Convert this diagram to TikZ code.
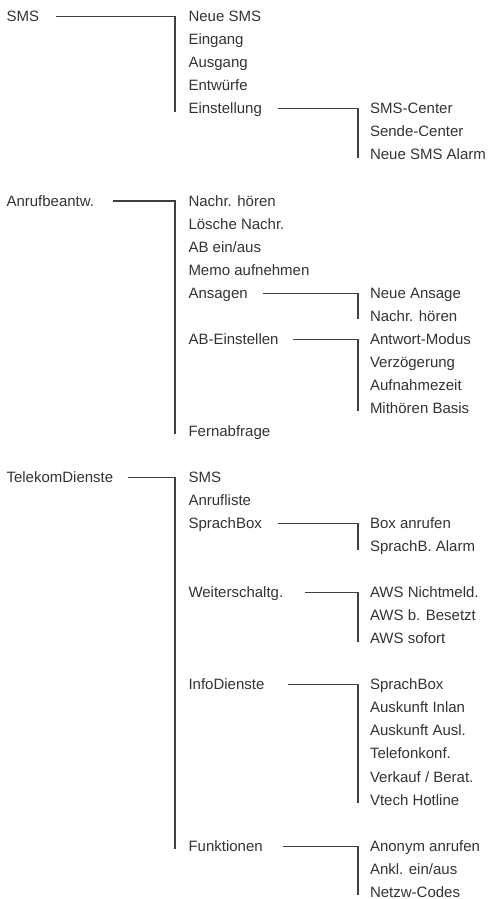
\documentclass[tikz,border=0pt]{standalone}
\usepackage{fontspec}
\setmainfont{Liberation Sans}
\definecolor{txt}{HTML}{333333}
\definecolor{ln}{HTML}{404040}
\begin{document}
\begin{tikzpicture}[x=1pt,y=-1pt,
  item/.style={anchor=base west,inner sep=0pt,outer sep=0pt,text=txt,font=\fontsize{15}{17}\selectfont},
  conn/.style={draw=ln,line width=1.1pt}]
\useasboundingbox (0,0) rectangle (491,899);
\def\ca{6.5}\def\cb{188.5}\def\cc{370}
\newcommand\ry[1]{{21.7+23.04*#1}}
% level 1
\node[item] (sms) at (\ca,\ry{0}) {SMS};
\node[item] (ab) at (\ca,\ry{8}) {Anrufbeantw.};
\node[item] (tk) at (\ca,\ry{20}) {TelekomDienste};
% level 2 SMS
\node[item] (neuesms) at (\cb,\ry{0}) {Neue SMS};
\node[item] (eingang) at (\cb,\ry{1}) {Eingang};
\node[item] (ausgang) at (\cb,\ry{2}) {Ausgang};
\node[item] (entw) at (\cb,\ry{3}) {Entwürfe};
\node[item] (einst) at (\cb,\ry{4}) {Einstellung};
\node[item] (smsc) at (\cc,\ry{4}) {SMS-Center};
\node[item] (sendec) at (\cc,\ry{5}) {Sende-Center};
\node[item] (alarm) at (\cc,\ry{6}) {Neue SMS Alarm};
% level 2 AB
\node[item] (nh) at (\cb,\ry{8}) {Nachr. hören};
\node[item] (loe) at (\cb,\ry{9}) {Lösche Nachr.};
\node[item] (abea) at (\cb,\ry{10}) {AB ein/aus};
\node[item] (memo) at (\cb,\ry{11}) {Memo aufnehmen};
\node[item] (ans) at (\cb,\ry{12}) {Ansagen};
\node[item] (abe) at (\cb,\ry{14}) {AB-Einstellen};
\node[item] (fern) at (\cb,\ry{18}) {Fernabfrage};
\node[item] (nans) at (\cc,\ry{12}) {Neue Ansage};
\node[item] (nh2) at (\cc,\ry{13}) {Nachr. hören};
\node[item] (amod) at (\cc,\ry{14}) {Antwort-Modus};
\node[item] (verz) at (\cc,\ry{15}) {Verzögerung};
\node[item] (aufn) at (\cc,\ry{16}) {Aufnahmezeit};
\node[item] (mith) at (\cc,\ry{17}) {Mithören Basis};
% level 2 Telekom
\node[item] (tsms) at (\cb,\ry{20}) {SMS};
\node[item] (aliste) at (\cb,\ry{21}) {Anrufliste};
\node[item] (sbox) at (\cb,\ry{22}) {SprachBox};
\node[item] (weit) at (\cb,\ry{25}) {Weiterschaltg.};
\node[item] (info) at (\cb,\ry{29}) {InfoDienste};
\node[item] (funk) at (\cb,\ry{36}) {Funktionen};
\node[item] (boxan) at (\cc,\ry{22}) {Box anrufen};
\node[item] (sbal) at (\cc,\ry{23}) {SprachB. Alarm};
\node[item] (awsn) at (\cc,\ry{25}) {AWS Nichtmeld.};
\node[item] (awsb) at (\cc,\ry{26}) {AWS b. Besetzt};
\node[item] (awss) at (\cc,\ry{27}) {AWS sofort};
\node[item] (isb) at (\cc,\ry{29}) {SprachBox};
\node[item] (ain) at (\cc,\ry{30}) {Auskunft Inlan};
\node[item] (aau) at (\cc,\ry{31}) {Auskunft Ausl.};
\node[item] (tel) at (\cc,\ry{32}) {Telefonkonf.};
\node[item] (verk) at (\cc,\ry{33}) {Verkauf / Berat.};
\node[item] (vtech) at (\cc,\ry{34}) {Vtech Hotline};
\node[item] (anon) at (\cc,\ry{36}) {Anonym anrufen};
\node[item] (ankl) at (\cc,\ry{37}) {Ankl. ein/aus};
\node[item] (netzw) at (\cc,\ry{38}) {Netzw-Codes};
% connectors level 1
\draw[conn] ([xshift=49.5pt,yshift=5pt]sms.base west) -| ([xshift=-13.5pt,yshift=2pt]einst.base west);
\draw[conn] ([xshift=106.5pt,yshift=5pt]ab.base west) -| ([xshift=-13.5pt,yshift=2pt]fern.base west);
\draw[conn] ([xshift=121.5pt,yshift=5pt]tk.base west) -| ([xshift=-13.5pt,yshift=2pt]funk.base west);
% connectors level 2
\draw[conn] ([xshift=89.5pt,yshift=5pt]einst.base west) -| ([xshift=-12pt,yshift=2pt]alarm.base west);
\draw[conn] ([xshift=74.5pt,yshift=5pt]ans.base west) -| ([xshift=-12pt,yshift=2pt]nh2.base west);
\draw[conn] ([xshift=104.5pt,yshift=5pt]abe.base west) -| ([xshift=-12pt,yshift=2pt]mith.base west);
\draw[conn] ([xshift=89.5pt,yshift=5pt]sbox.base west) -| ([xshift=-12pt,yshift=2pt]sbal.base west);
\draw[conn] ([xshift=116.5pt,yshift=5pt]weit.base west) -| ([xshift=-12pt,yshift=2pt]awss.base west);
\draw[conn] ([xshift=99.5pt,yshift=5pt]info.base west) -| ([xshift=-12pt,yshift=2pt]vtech.base west);
\draw[conn] ([xshift=94.5pt,yshift=5pt]funk.base west) -| ([xshift=-12pt,yshift=2pt]netzw.base west);
\end{tikzpicture}
\end{document}
